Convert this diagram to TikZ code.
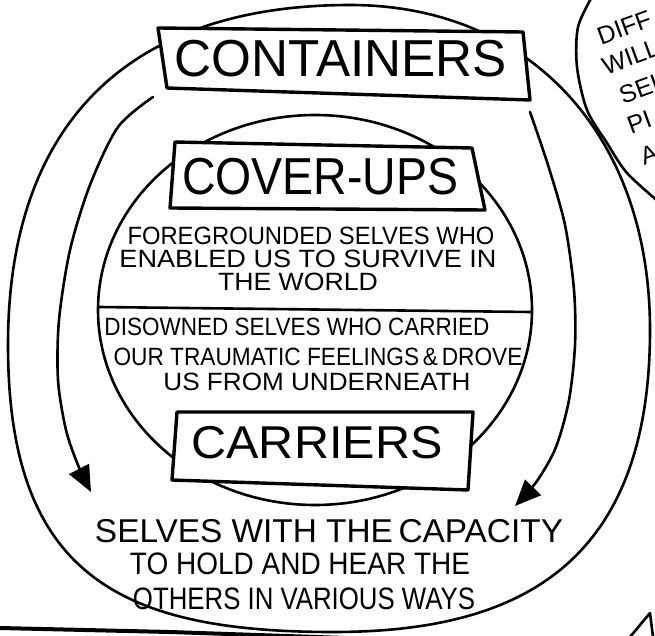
\documentclass[tikz,border=0pt]{standalone}
\usepackage{fontspec}
\setmainfont{Liberation Sans}
\usepackage{graphicx}
\usetikzlibrary{arrows.meta}
\newcommand{\fitw}[2]{\resizebox{#1pt}{\height}{#2}}
\begin{document}
\begin{tikzpicture}[x=1pt,y=-1pt,
  ink/.style={line width=2.6pt, line cap=round, line join=round},
  boxline/.style={line width=3.4pt, line join=round, fill=white},
  big/.style={inner sep=0pt, font=\fontsize{52}{52}\selectfont},
  carr/.style={inner sep=0pt, font=\fontsize{46}{46}\selectfont},
  mid/.style={inner sep=0pt, font=\fontsize{25}{25}\selectfont},
  low/.style={inner sep=0pt, font=\fontsize{33}{33}\selectfont},
  lowb/.style={inner sep=0pt, font=\fontsize{31}{31}\selectfont},
  bub/.style={inner sep=0pt, anchor=west, rotate=20, font=\fontsize{25}{25}\selectfont},
  tipped/.style={-{Triangle[length=26pt,width=22pt]}}
]
\fill[white] (0,0) rectangle (655,636);
\useasboundingbox (0,0) rectangle (655,636);

% outer ring
\draw[ink] (350,5) .. controls (530,5) and (650,135) .. (650,330)
  .. controls (650,572) and (510,632) .. (333,632)
  .. controls (120,632) and (8,575) .. (8,345)
  .. controls (8,124) and (128,5) .. (350,5) -- cycle;

% speech bubble edge (top right)
\draw[ink] plot[smooth] coordinates {(593,-5) (578,27) (577,67) (587,110) (607,143) (627,173) (660,203)};

% inner circle and divider
\draw[ink] (315,310) ellipse [x radius=217pt, y radius=195pt];
\coordinate (dvL) at (99,307);
\coordinate (dvR) at (531,312);
\draw[ink] (dvL) -- (dvR);

% arrows of the middle ring
\coordinate (aL) at (153,97);
\coordinate (tL) at (91,492);
\coordinate (aR) at (530,112);
\coordinate (tR) at (515,506);
\draw[ink, tipped] plot[smooth] coordinates {(aL) (118,127) (90,185) (70,250) (59,320) (58,380) (66,430) (78,465) (tL)};
\draw[ink, tipped] plot[smooth] coordinates {(aR) (548,165) (565,225) (574,290) (575,345) (569,400) (556,447) (537,481) (tR)};

% bottom border pieces
\draw[line width=4pt, line cap=round] (0,628) -- (170,632) -- (345,638);
\draw[ink] (630,637) -- (650,613) -- (653,637);

% boxes
\draw[boxline] (158,28) -- (523,32) -- (530,100) -- (167,88) -- cycle;
\draw[boxline] (175,142) -- (472,148) -- (485,210) -- (170,208) -- cycle;
\draw[boxline] (177,412) -- (473,412) -- (468,490) -- (172,480) -- cycle;

% texts
\node[big] (containers) at (341,59) {\fitw{332}{CONTAINERS}};
\node[big] (coverups) at (320,177) {\fitw{276}{COVER-UPS}};
\node[carr] (carriers) at (317,443) {\fitw{251}{CARRIERS}};

\node[mid] (fg1) at (311,236) {\fitw{367}{FOREGROUNDED SELVES WHO}};
\node[mid] (fg2) at (308,259) {\fitw{377}{ENABLED US TO SURVIVE IN}};
\node[mid] (fg3) at (298,282) {\fitw{160}{THE WORLD}};
\node[mid] (ds1) at (297,327) {\fitw{385}{DISOWNED SELVES WHO CARRIED}};
\node[mid] (ds2) at (318,357) {\fitw{409}{OUR TRAUMATIC FEELINGS\,\&\,DROVE}};
\node[mid] (ds3) at (317,382) {\fitw{307}{US FROM UNDERNEATH}};

\node[low] (sv1) at (329,531) {\fitw{468}{SELVES WITH THE\,CAPACITY}};
\node[lowb] (sv2) at (300,564) {\fitw{340}{TO HOLD AND HEAR THE}};
\node[lowb] (sv3) at (304,599) {\fitw{342}{OTHERS IN VARIOUS WAYS}};

\node[bub] (b1) at (598,37) {DIFF};
\node[bub] (b2) at (603,67) {WILL};
\node[bub] (b3) at (620,96) {SEL};
\node[bub] (b4) at (628,126) {PI};
\node[bub] (b5) at (641,157) {A};
\end{tikzpicture}
\end{document}
